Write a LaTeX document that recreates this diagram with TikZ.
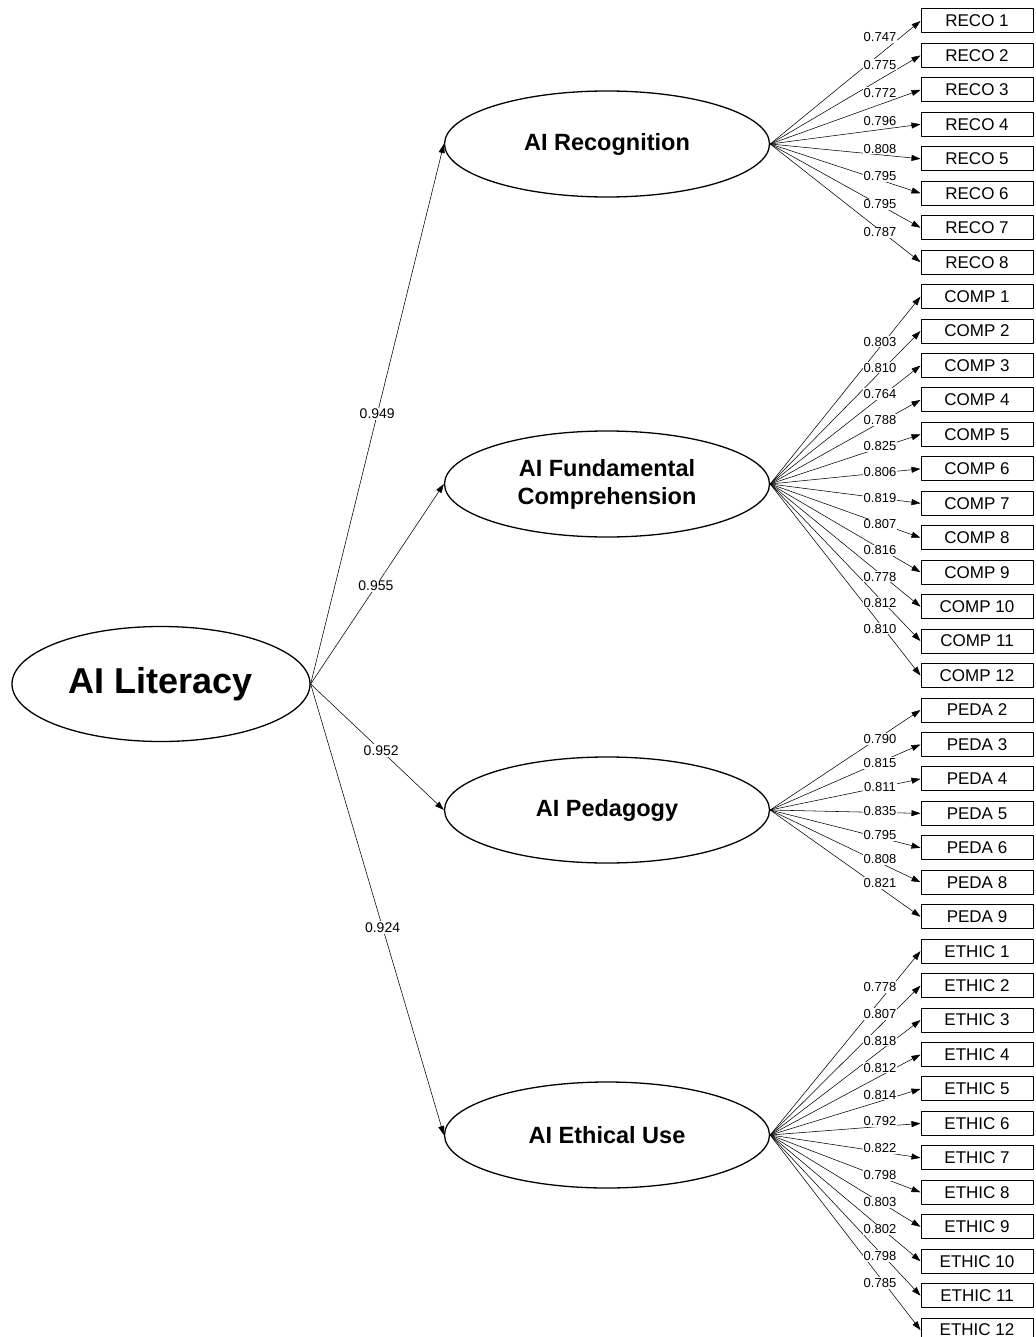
\documentclass[tikz,border=0pt]{standalone}
\usepackage{fontspec}
\setmainfont{Liberation Sans}
\usetikzlibrary{arrows.meta,shapes.geometric}

\tikzset{
  latent/.style={draw, ellipse, line width=1.3pt, minimum width=325pt, minimum height=106pt, inner sep=0pt, align=center, font=\fontsize{23.5}{28}\selectfont\bfseries},
  item/.style={draw, rectangle, line width=1pt, minimum width=112pt, minimum height=24pt, inner sep=0pt, font=\fontsize{17}{17}\selectfont},
  path/.style={->, line width=0.55pt},
  load/.style={fill=white, inner sep=1pt, font=\fontsize{13}{13}\selectfont},
  sload/.style={fill=white, inner sep=1.5pt, font=\fontsize{14}{14}\selectfont}
}

\begin{document}
\begin{tikzpicture}[x=1pt, y=-1pt, line cap=round, line join=round, >={Triangle[length=9pt,width=6pt]}]
    \useasboundingbox (0,0) rectangle (1035,1337);

    \node[draw, ellipse, line width=1.3pt, minimum width=298pt, minimum height=115pt, inner sep=0pt, font=\fontsize{36}{36}\selectfont\bfseries] (lit) at (161,684) {AI Literacy};
    \node[latent] (reco) at (607,144) {AI Recognition};
    \node[latent] (comp) at (607,484) {AI Fundamental\\Comprehension};
    \node[latent] (peda) at (607,810) {AI Pedagogy};
    \node[latent] (ethic) at (607,1135) {AI Ethical Use};

    \foreach \n in {1,...,8}
    \node[item] (reco\n) at (977,{21+(\n-1)*34.45}) {RECO \n};
    \foreach \n in {1,...,12}
    \node[item] (comp\n) at (977,{21+(\n+7)*34.45}) {COMP \n};
    \foreach \n [count=\k from 20] in {2,3,4,5,6,8,9}
    \node[item] (peda\n) at (977,{21+\k*34.45}) {PEDA \n};
    \foreach \n in {1,...,12}
    \node[item] (ethic\n) at (977,{21+(\n+26)*34.45}) {ETHIC \n};

    \draw[path] (lit.east) -- (reco.west) node[sload, pos=0.5] {0.949};
    \draw[path] (lit.east) -- (comp.west) node[sload, pos=0.49] {0.955};
    \draw[path] (lit.east) -- (peda.west) node[sload, pos=0.53] {0.952};
    \draw[path] (lit.east) -- (ethic.west) node[sload, pos=0.54] {0.924};

    \foreach \n in {1,...,8}
    \draw[path] (reco.east) -- (reco\n.west);
    \foreach \n in {1,...,12}
    \draw[path] (comp.east) -- (comp\n.west);
    \foreach \n in {2,3,4,5,6,8,9}
    \draw[path] (peda.east) -- (peda\n.west);
    \foreach \n in {1,...,12}
    \draw[path] (ethic.east) -- (ethic\n.west);

    \foreach \n/\v [count=\k from 0] in {1/0.747,2/0.775,3/0.772,4/0.796,5/0.808,6/0.795,7/0.795,8/0.787}
    \node[load] (lreco\n) at (880,{37+\k*27.9}) {\v};
    \foreach \n/\v [count=\k from 0] in {1/0.803,2/0.810,3/0.764,4/0.788,5/0.825,6/0.806,7/0.819,8/0.807,9/0.816,10/0.778,11/0.812,12/0.810}
    \node[load] (lcomp\n) at (880,{341.7+\k*26.1}) {\v};
    \foreach \n/\v [count=\k from 0] in {2/0.790,3/0.815,4/0.811,5/0.835,6/0.795,8/0.808,9/0.821}
    \node[load] (lpeda\n) at (880,{739+\k*24}) {\v};
    \foreach \n/\v [count=\k from 0] in {1/0.778,2/0.807,3/0.818,4/0.812,5/0.814,6/0.792,7/0.822,8/0.798,9/0.803,10/0.802,11/0.798,12/0.785}
    \node[load] (lethic\n) at (880,{987+\k*26.9}) {\v};
\end{tikzpicture}
\end{document}
